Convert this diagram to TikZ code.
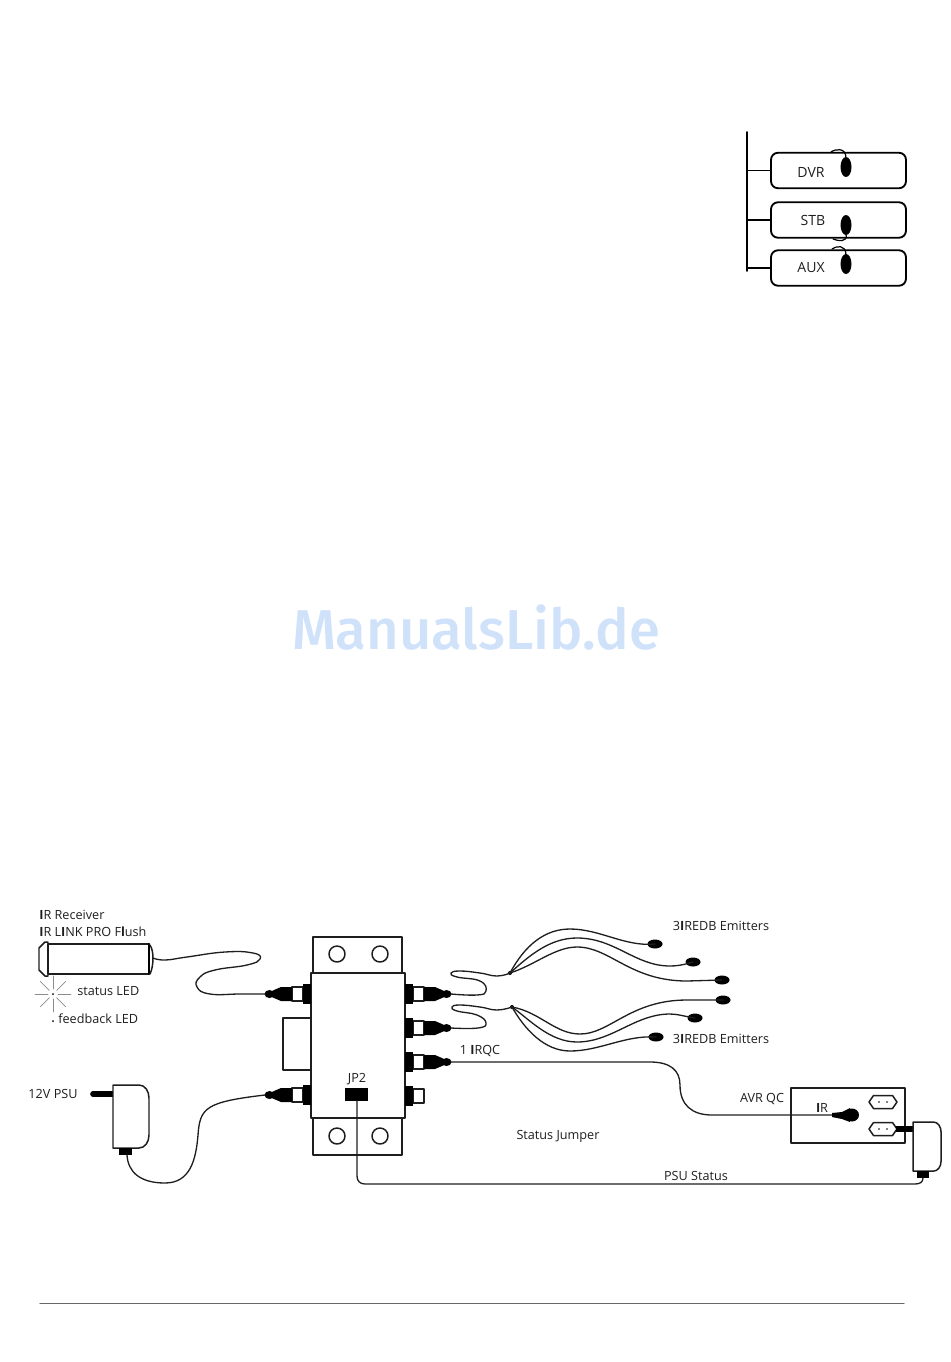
\documentclass[tikz,border=0pt]{standalone}
\usepackage{fontspec}
\setmainfont{Open Sans}
\newfontfamily\markfont[UprightFont={* Medium}]{Fira Sans}
\definecolor{inkgrey}{RGB}{30,30,30}
\definecolor{markblue}{RGB}{207,226,250}
\newcommand{\hv}[1]{{\bfseries #1}}
\tikzset{
	wire/.style={line width=0.75pt,inkgrey},
	outline/.style={line width=0.85pt,inkgrey},
	caption/.style={font=\fontsize{7.2}{9}\selectfont,text=inkgrey,inner sep=0pt},
	devbox/.style={draw=black,line width=1.05pt,rounded corners=4pt,minimum width=2.7cm,minimum height=0.71cm,inner sep=0pt},
	port/.pic={
		\draw[outline,fill=white] (8,-7) rectangle (19,7);
		\fill[black] (0,-10) rectangle (8,10);
	},
	plug/.pic={
		\draw[outline,fill=white] (8,-7) rectangle (19,7);
		\fill[black] (0,-10) rectangle (8,10);
		\fill[black] (19,-7)--(30,-7)--(37,-4)--(41,-2)--(41,2)--(37,4)--(30,7)--(19,7)--cycle;
		\fill[black] (41.5,0) ellipse (5 and 4);
	},
	wallpsu/.pic={
		\draw[outline,fill=white] (0,0)--(26,0) .. controls (32,0) and (36,6) .. (36,13)--(36,50) .. controls (36,57) and (32,63) .. (26,63)--(0,63)--cycle;
	},
	socket/.pic={
		\draw[outline] (-14,0)--(-9.5,-6.5)--(9.5,-6.5)--(14,0)--(9.5,6.5)--(-9.5,6.5)--cycle;
		\foreach \i in {-4,4} \fill[black] (\i,0) circle (0.9);
	},
}
\begin{document}
\begin{tikzpicture}[x=0.02cm,y=-0.02cm,line join=round,line cap=round]
	\useasboundingbox (0,0) rectangle (950,1362);
	% watermark
	\node (wmark) at (476,628) [font=\markfont\fontsize{32}{36}\selectfont,text=markblue,inner sep=0pt] {ManualsLib.de};
	% device list, top right
	\coordinate (trunktop) at (747,132);
	\coordinate (trunkbot) at (747,271);
	\draw[line width=0.9pt,black] (trunktop)--(trunkbot);
	\node (dvrbox) at (838.5,170.5) [devbox] {};
	\node (stbbox) at (838.5,220) [devbox] {};
	\node (auxbox) at (838.5,268) [devbox] {};
	\draw[line width=1pt] (747,170.5)--(dvrbox.west);
	\draw[line width=1pt] (747,220)--(stbbox.west);
	\draw[line width=1.4pt] (747,268)--(auxbox.west);
	\foreach \n/\y in {dvr/167,stb/225,aux/264} \fill[black] (846,\y) coordinate (\n eye) ellipse (5.5 and 10);
	\draw[line width=0.7pt] (831,152) .. controls (835,149) and (846,147) .. (846,158);
	\draw[line width=0.7pt] (846,234) .. controls (848,243) and (838,241) .. (833,239);
	\draw[line width=0.7pt] (832,249) .. controls (836,246) and (846,244) .. (846,255);
	\node (dvrlab) at (811,172) [caption,font=\fontsize{8}{9}\selectfont] {DVR};
	\node (stblab) at (813,220) [caption,font=\fontsize{8}{9}\selectfont] {STB};
	\node (auxlab) at (811,268) [caption,font=\fontsize{8}{9}\selectfont] {AUX};
	% main unit
	\draw[outline] (283,1018) rectangle (311,1070);
	\draw[outline] (313,937) rectangle (402,973);
	\draw[outline] (313,1118) rectangle (402,1155);
	\draw[outline,fill=white] (311,973) rectangle (405,1118);
	\foreach \x in {337,380} {
		\draw[outline] (\x,954) circle (8);
		\draw[outline] (\x,1136) circle (8);
	}
	% ports
	\path (311,994) pic[xscale=-1]{plug} (311,1095) pic[xscale=-1]{plug};
	\path (405,994) pic{plug} (405,1028) pic{plug} (405,1062) pic{plug} (405,1096) pic{port};
	\foreach \n/\x/\y in {irin/265/994,pwrin/265/1095,outa/451/994,outb/451/1028,outc/451/1062} \coordinate (\n) at (\x,\y);
	\node (jptwo) at (356.5,1094.5) [fill=black,minimum width=0.46cm,minimum height=0.26cm,inner sep=0pt] {};
	\node (jplab) at (357,1079) [caption] {JP2};
	% IR receiver
	\draw[outline,fill=white] (48,944) rectangle (149,974);
	\draw[outline] (48,942)--(45,942)--(39,948)--(39,970)--(45,976)--(48,976)--cycle;
	\draw[line width=1.2pt,black] (149,944)--(149,974);
	\draw[outline] (150,945) .. controls (152,948) and (153,953) .. (153,958) .. controls (153,964) and (152,970) .. (150,974);
	\coordinate (recvend) at (153,958);
	\draw[wire] plot[smooth,tension=0.8] coordinates {(recvend) (165,960) (187,957) (225,952) (253,953) (260,959) (247,965) (215,970) (200,977) (197,987) (210,994) (240,994) (irin)};
	\node (rxa) at (39,915) [caption,anchor=west] {\hv{I}R Receiver};
	\node (rxb) at (39,932) [caption,anchor=west] {\hv{I}R L\hv{I}NK PRO F\hv{l}ush};
	\foreach \a in {0,45,...,315} \draw[line width=0.4pt,black!45] (53,994)+(\a:5) -- +(\a:18);
	\fill[black] (53,994) circle (1);
	\node (statuslab) at (77,991) [caption,anchor=west] {status LED};
	\fill[black] (53,1021) circle (1);
	\node (feedlab) at (58,1019) [caption,anchor=west] {feedback LED};
	% 12V supply
	\node (psulab) at (53,1094) [caption] {12V PSU};
	\draw[line width=3.2pt,black] (93,1094)--(113,1094);
	\path (113,1085) pic{wallpsu};
	\fill[black] (119,1148) rectangle (132,1155);
	\coordinate (psutail) at (127,1155);
	\draw[wire] (psutail) .. controls (128,1172) and (140,1183) .. (165,1183) .. controls (190,1183) and (196,1160) .. (198,1135) .. controls (200,1108) and (205,1102) .. (pwrin);
	% emitters
	\foreach \n/\x/\y in {ema/655/944,emb/693/962,emc/722/980,emd/723/1000,eme/695/1018,emf/656/1037} {
		\coordinate (\n) at (\x,\y);
		\fill[black] (\n) ellipse (7.5 and 4.5);
	}
	\coordinate (upjoin) at (510,973);
	\coordinate (lojoin) at (512,1007);
	\fill[black] (upjoin) circle (2);
	\fill[black] (lojoin) circle (2);
	\draw[wire] plot[smooth,tension=0.8] coordinates {(outa) (477,995) (486,991) (480,981) (457,977) (451,973) (460,971) (480,973) (497,976) (upjoin)};
	\draw[wire] plot[smooth,tension=0.8] coordinates {(outb) (478,1028) (486,1023) (477,1015) (457,1011) (452,1007) (460,1005) (480,1007) (497,1010) (lojoin)};
	\draw[wire] (upjoin) .. controls (525,945) and (545,929) .. (570,929) .. controls (600,929) and (625,947) .. (ema);
	\draw[wire] (upjoin) .. controls (530,955) and (550,938) .. (577,938) .. controls (615,938) and (635,966) .. (670,966) .. controls (677,966) and (683,965) .. (emb);
	\draw[wire] (upjoin) .. controls (535,965) and (555,947) .. (577,947) .. controls (610,947) and (630,981) .. (687,981)--(emc);
	\draw[wire] (lojoin) .. controls (540,1012) and (555,1034) .. (580,1034) .. controls (610,1034) and (630,1000) .. (687,1000)--(emd);
	\draw[wire] (lojoin) .. controls (530,1020) and (550,1042) .. (577,1042) .. controls (612,1042) and (635,1014) .. (670,1014) .. controls (677,1014) and (683,1016) .. (eme);
	\draw[wire] (lojoin) .. controls (525,1030) and (545,1051) .. (570,1051) .. controls (600,1051) and (625,1035) .. (emf);
	\node (emitlaba) at (721,925.5) [caption] {3\hv{I}REDB Emitters};
	\node (emitlabb) at (721,1038.5) [caption] {3\hv{I}REDB Emitters};
	% AVR
	\draw[outline] (791,1088) rectangle (905,1143);
	\path (883,1102) pic{socket} (883,1129) pic{socket};
	\coordinate (irplug) at (833,1115);
	\draw[wire] (outc)--(650,1062) .. controls (670,1062) and (680,1070) .. (680,1085) .. controls (680,1105) and (692,1115) .. (712,1115)--(irplug);
	\fill[black] (832,1113)--(842,1112)--(850,1108)--(850,1122)--(842,1119)--(832,1117)--cycle;
	\fill[black] (852,1115) ellipse (7 and 6.5);
	\node (irqclab) at (480,1051) [caption] {1 \hv{I}RQC};
	\node (avrlab) at (762,1098.5) [caption] {AVR QC};
	\node (irlab) at (822,1108) [caption] {\hv{I}R};
	\node (jumplab) at (558,1136) [caption] {Status Jumper};
	\node (psustat) at (696,1175.5) [caption] {PSU Status};
	% status supply
	\draw[line width=3pt,black,line cap=butt] (896,1129)--(913,1129);
	\path (913,1122) pic[xscale=0.78,yscale=0.78]{wallpsu};
	\fill[black] (917,1171) rectangle (929,1178);
	\coordinate (jpfoot) at (357,1101);
	\coordinate (statfoot) at (923,1178);
	\draw[wire] (jpfoot)--(357,1176) .. controls (357,1181) and (360,1184) .. (365,1184)--(915,1184) .. controls (920,1184) and (923,1182) .. (statfoot);
	% bottom rule
	\draw[line width=0.7pt,black!60] (40,1303.5)--(904,1303.5);
\end{tikzpicture}
\end{document}
